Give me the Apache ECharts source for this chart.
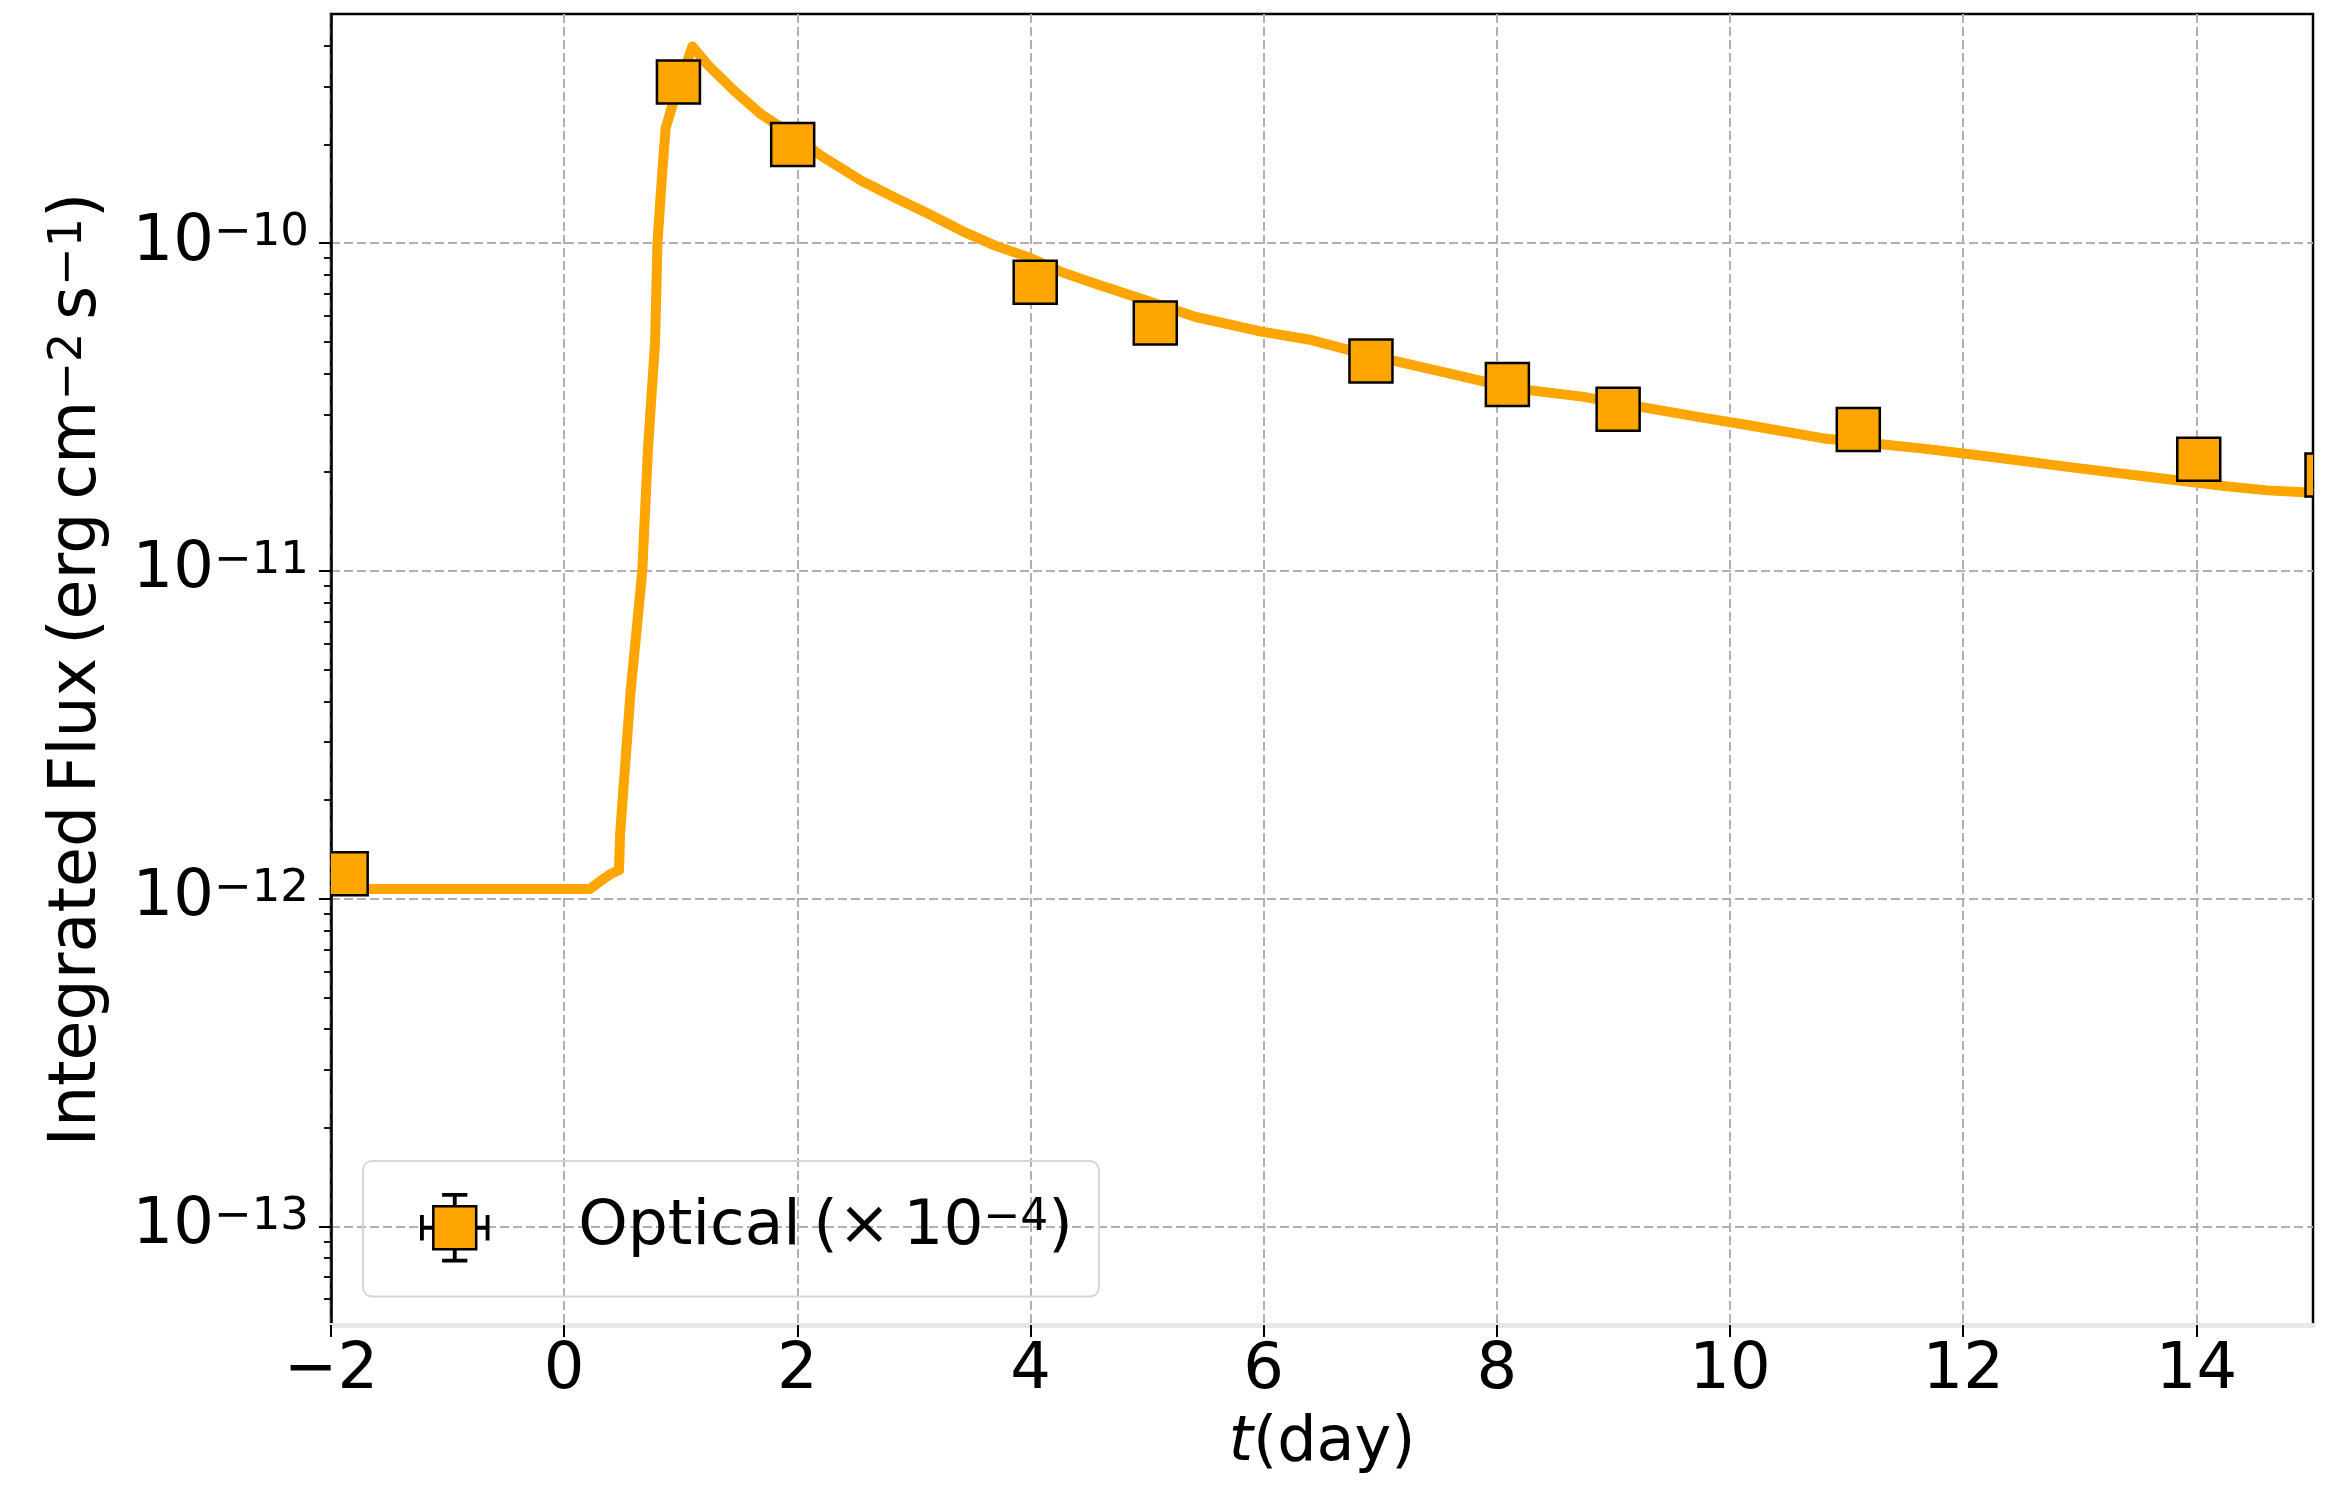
<!DOCTYPE html>
<html>
<head>
<meta charset="utf-8">
<script src="https://cdn.jsdelivr.net/npm/echarts@6/dist/echarts.min.js"></script>
<style>
  html, body { margin: 0; padding: 0; background: #ffffff; }
  #chart { width: 2335px; height: 1490px; }
</style>
</head>
<body>
<div id="chart"></div>
<script>
// Model light curve (time in days, integrated flux in erg cm^-2 s^-1)
const modelTime = [-2.0, 0.22, 0.31, 0.40, 0.47, 0.48, 0.57, 0.61, 0.67, 0.72, 0.78, 0.80, 0.84, 0.87, 0.95,
  1.10, 1.23, 1.46, 1.69, 1.96, 2.20, 2.55, 2.83, 3.12, 3.41, 3.69, 3.98, 4.26, 4.55, 4.98, 5.41, 5.98,
  6.41, 6.84, 7.27, 7.70, 8.13, 8.73, 9.75, 10.16, 10.79, 11.21, 11.66, 12.18, 12.88, 13.67, 14.26, 14.61, 15.0];
const modelFlux = [1.07e-12, 1.07e-12, 1.13e-12, 1.19e-12, 1.22e-12, 1.58e-12, 4.3e-12, 6.0e-12, 1.0e-11, 2.4e-11,
  5.0e-11, 1.0e-10, 1.62e-10, 2.24e-10, 2.8e-10, 3.98e-10, 3.5e-10, 2.91e-10, 2.47e-10, 2.14e-10, 1.85e-10,
  1.55e-10, 1.38e-10, 1.23e-10, 1.09e-10, 9.84e-11, 9.06e-11, 8.17e-11, 7.53e-11, 6.70e-11, 5.96e-11, 5.37e-11,
  5.06e-11, 4.61e-11, 4.25e-11, 3.92e-11, 3.61e-11, 3.40e-11, 2.94e-11, 2.78e-11, 2.54e-11, 2.45e-11, 2.36e-11,
  2.24e-11, 2.08e-11, 1.92e-11, 1.81e-11, 1.76e-11, 1.73e-11];

// Optical measurements (scaled by 1e-4)
const obsTime = [-1.87, 0.98, 1.96, 4.04, 5.07, 6.92, 8.09, 9.04, 11.10, 14.02, 15.12];
const obsFlux = [1.19e-12, 3.10e-10, 2.00e-10, 7.6e-11, 5.7e-11, 4.37e-11, 3.70e-11, 3.11e-11, 2.70e-11, 2.19e-11, 1.96e-11];

// Axis ticks
const xTickValues = [-2, 0, 2, 4, 6, 8, 10, 12, 14];
const yTickValues = [1e-13, 1e-12, 1e-11, 1e-10];
const xRange = [-2, 15];
const yRange = [5e-14, 5e-10];

// Minor ticks of the log axis: 2..9 times each decade inside the range
const yMinorTicks = [];
for (let e = -14; e <= -10; e++) {
  for (let m = 2; m <= 9; m++) {
    const v = m * Math.pow(10, e);
    if (v > yRange[0] * 1.01 && v < yRange[1] * 0.99) yMinorTicks.push(v);
  }
}

const FONT = "'DejaVu Sans', 'Noto Sans', sans-serif";
const ORANGE = '#FFA500';
const MINUS = '\u2212';
const THIN = '\u2009';

const lineData = modelTime.map((t, i) => [t, modelFlux[i]]);
const obsData = obsTime.map((t, i) => [t, obsFlux[i]]);

// Square marker with error-bar whiskers used as the legend glyph
const errIcon = 'path://' +
  'M18 18L82 18L82 82L18 82Z' +
  'M0 49L18 49L18 51L0 51Z M0 33L2 33L2 67L0 67Z' +
  'M82 49L100 49L100 51L82 51Z M98 33L100 33L100 67L98 67Z' +
  'M49 0L51 0L51 18L49 18Z M33 0L67 0L67 2L33 2Z' +
  'M49 82L51 82L51 100L49 100Z M33 98L67 98L67 100L33 100Z';

const supRich = (size) => ({
  n: { fontFamily: FONT, fontSize: size, lineHeight: size, color: '#000', verticalAlign: 'middle' },
  s: { fontFamily: FONT, fontSize: Math.round(size * 0.7), lineHeight: 28, color: '#000', verticalAlign: 'top' },
  i: { fontFamily: FONT, fontSize: size, lineHeight: size, color: '#000', fontStyle: 'italic' }
});

const gridDash = { color: '#b0b0b0', width: 2, type: [9, 4] };

const chart = echarts.init(document.getElementById('chart'), null, { renderer: 'canvas' });

chart.setOption({
  backgroundColor: '#ffffff',
  animation: false,
  grid: {
    left: 331, right: 22, top: 14, bottom: 165,
    show: true, borderColor: '#000', borderWidth: 2.5, backgroundColor: 'transparent'
  },
  xAxis: {
    type: 'value',
    min: xRange[0], max: xRange[1],
    name: '{i|t}{n|(day)}',
    nameLocation: 'middle',
    nameGap: 88,
    nameTextStyle: { rich: supRich(62) },
    axisLine: { show: true, onZero: false, lineStyle: { color: '#e8e8e8', width: 5 } },
    axisTick: { show: true, inside: false, length: 12, customValues: xTickValues, lineStyle: { color: '#000', width: 2 } },
    axisLabel: {
      show: true, margin: 14, customValues: xTickValues,
      fontFamily: FONT, fontSize: 64, color: '#000',
      formatter: (v) => (v < 0 ? MINUS + (-v) : String(v))
    },
    splitLine: { show: true, lineStyle: gridDash }
  },
  yAxis: [
    {
      type: 'log',
      logBase: 10,
      min: yRange[0], max: yRange[1],
      position: 'left',
      name: '{n|Integrated' + THIN + 'Flux' + THIN + '(erg' + THIN + 'cm}{s|' + MINUS + '2}{n|' + THIN + 's}{s|' + MINUS + '1}{n|)}',
      nameLocation: 'middle',
      nameRotate: 90,
      nameGap: 220,
      nameTextStyle: { rich: supRich(65) },
      axisLine: { show: true, onZero: false, lineStyle: { color: '#000', width: 2.5 } },
      axisTick: { show: true, inside: false, length: 12, customValues: yTickValues, lineStyle: { color: '#000', width: 2 } },
      axisLabel: {
        show: true, margin: 22, customValues: yTickValues,
        formatter: (v) => '{n|10}{s|' + MINUS + Math.round(-Math.log10(v)) + '}',
        rich: supRich(64)
      },
      splitLine: { show: true, lineStyle: gridDash },
      minorTick: { show: false },
      minorSplitLine: { show: false }
    },
    {
      type: 'log',
      logBase: 10,
      min: yRange[0], max: yRange[1],
      position: 'left',
      axisLine: { show: false, onZero: false },
      axisTick: { show: true, inside: false, length: 7, customValues: yMinorTicks, lineStyle: { color: '#000', width: 1.8 } },
      axisLabel: { show: false },
      splitLine: { show: false }
    }
  ],
  legend: {
    left: 363, top: 1161,
    orient: 'horizontal',
    padding: [32, 26, 34, 57],
    backgroundColor: 'transparent',
    borderColor: '#d6d6d6',
    borderWidth: 2,
    borderRadius: 9,
    itemWidth: 67,
    itemHeight: 67,
    selectedMode: false,
    data: [{
      name: 'Optical',
      icon: errIcon,
      itemStyle: { color: ORANGE, borderColor: '#000', borderWidth: 2.5 }
    }],
    formatter: () => '{n|Optical' + THIN + '(×' + THIN + '10}{s|' + MINUS + '4}{n|)}',
    textStyle: {
      padding: [0, 0, 0, 85],
      rich: supRich(63)
    }
  },
  series: [
    {
      name: 'model',
      type: 'line',
      xAxisIndex: 0, yAxisIndex: 0,
      data: lineData,
      showSymbol: false,
      symbol: 'none',
      clip: true,
      z: 2,
      lineStyle: { color: ORANGE, width: 10, join: 'round', cap: 'butt' },
      emphasis: { disabled: true }
    },
    {
      name: 'Optical',
      type: 'custom',
      xAxisIndex: 0, yAxisIndex: 0,
      data: obsData,
      encode: { x: 0, y: 1 },
      clip: true,
      z: 3,
      itemStyle: { color: ORANGE },
      renderItem: function (params, api) {
        const p = api.coord([api.value(0), api.value(1)]);
        const size = 43;
        return {
          type: 'rect',
          shape: { x: p[0] - size / 2, y: p[1] - size / 2, width: size, height: size },
          style: { fill: ORANGE, stroke: '#000', lineWidth: 2.5 }
        };
      }
    }
  ]
});
</script>
</body>
</html>
